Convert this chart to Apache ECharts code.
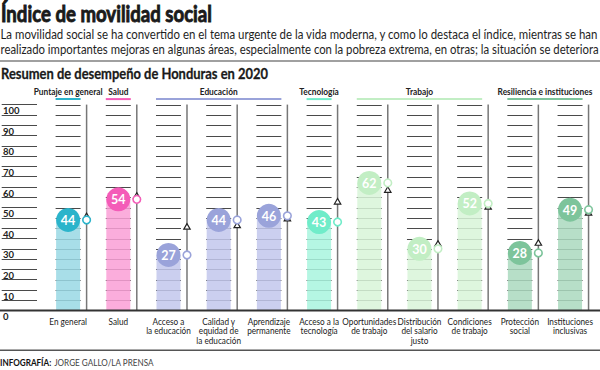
<!DOCTYPE html>
<html>
<head>
<meta charset="utf-8">
<script src="https://cdn.jsdelivr.net/npm/echarts@6/dist/echarts.min.js"></script>
<style>html,body{margin:0;padding:0;background:#fff}#c{width:600px;height:370px}</style>
</head>
<body>
<div id="c"></div>
<script>
// ---------- DATA ----------
const categories = [
  'En general', 'Salud', 'Acceso a\nla educación', 'Calidad y\nequidad de\nla educación',
  'Aprendizaje\npermanente', 'Acceso a la\ntecnología', 'Oportunidades\nde trabajo',
  'Distribución\ndel salario\njusto', 'Condiciones\nde trabajo', 'Protección\nsocial',
  'Instituciones\ninclusivas'
];
const scores = [44, 54, 27, 44, 46, 43, 62, 30, 52, 28, 49];
const benchmark = [45.7, 55.6, 40.6, 41.3, 44.6, 52.8, 58.5, 32.3, 50.3, 32.8, 47.4];
const groupNames = ['Puntaje en general', 'Salud', 'Educación', 'Tecnología', 'Trabajo', 'Resiliencia e instituciones'];
const groupOfCategory = [0, 1, 2, 2, 2, 3, 4, 4, 4, 5, 5];
const yTickLabels = [0, 10, 20, 30, 40, 50, 60, 70, 80, 90, 100];

const titleText = 'Índice de movilidad social';
const subtitleLines = [
  'La movilidad social se ha convertido en el tema urgente de la vida moderna, y como lo destaca el índice, mientras se han',
  'realizado importantes mejoras en algunas áreas, especialmente con la pobreza extrema, en otras; la situación se deteriora'
];
const sectionTitle = 'Resumen de desempeño de Honduras en 2020';
const creditBold = 'INFOGRAFÍA:';
const creditRest = 'JORGE GALLO/LA PRENSA';

// ---------- STYLE ----------
const groupColors = ['#2BB4CB', '#F45CB8', '#9AA3DA', '#70ECC9', '#C2EEC4', '#7DC49B'];
const groupBarColors = ['#9AD8E4', '#FA9FD6', '#C2C7EC', '#A9F4DE', '#D8F5D8', '#ABDABF'];

const mctx = document.createElement('canvas').getContext('2d');
function measure(font, text) {
  mctx.font = font;
  return Math.max.apply(null, text.split('\n').map(t => mctx.measureText(t).width));
}
const FF = 'Lato, "Open Sans", sans-serif';
const fTitle = 'bold 22px ' + FF;
const fSub = '13px ' + FF;
const fSection = 'bold 15px ' + FF;
const fHeader = 'bold 10px ' + FF;
const fLabel = '10px ' + FF;
const fBubble = 'bold 12.5px ' + FF;
const fCreditB = 'bold 9.5px ' + FF;
const fCreditR = '9.5px ' + FF;

const sTitle = 211 / measure(fTitle, titleText);
const sSub1 = 598 / measure(fSub, subtitleLines[0]);
const sSub2 = 599 / measure(fSub, subtitleLines[1]);
const sSection = 267 / measure(fSection, sectionTitle);
const sHeader = 95 / measure(fHeader, 'Resiliencia e instituciones');
const sLabel = 54 / measure(fLabel, 'Oportunidades');
const sCredit = 153 / (measure(fCreditB, creditBold + ' ') + measure(fCreditR, creditRest));

function renderItem(params, api) {
  const i = api.value(0);
  const score = api.value(1);
  const bench = api.value(2);
  const base = api.coord([i, 0]);
  const cx = base[0], y0 = base[1];
  const yTop = api.coord([i, 100])[1];
  const ys = api.coord([i, score])[1];
  const yb = api.coord([i, bench])[1];
  const g = groupOfCategory[i];
  const col = groupColors[g], barCol = groupBarColors[g];
  const lx = cx + 18.5;
  const children = [];
  // column rules every 5 points
  for (let v = 5; v <= 100; v += 5) {
    const y = Math.round(api.coord([i, v])[1]) + 0.5;
    children.push({type: 'line', shape: {x1: cx - 12.5, y1: y, x2: cx + 12.5, y2: y},
      style: {stroke: '#4a4a4a', lineWidth: 1}});
  }
  // bar
  children.push({type: 'rect', shape: {x: cx - 12, y: ys, width: 24, height: y0 - ys},
    style: {fill: barCol, opacity: 0.86}});
  // bubble
  children.push({type: 'circle', shape: {cx: cx, cy: ys, r: 12}, style: {fill: col}});
  children.push({type: 'text', x: cx, y: ys + 0.5,
    style: {text: String(score), font: fBubble, fill: '#fff', align: 'center', verticalAlign: 'middle'}});
  // vertical rule
  children.push({type: 'line', shape: {x1: lx, y1: yTop, x2: lx, y2: y0},
    style: {stroke: '#777', lineWidth: 1.5}});
  // triangle (benchmark)
  children.push({type: 'polygon', shape: {points: [[lx, yb - 3.3], [lx - 3.2, yb + 2.2], [lx + 3.2, yb + 2.2]]},
    style: {fill: '#fff', stroke: '#222', lineWidth: 1.2}});
  // circle marker (score)
  children.push({type: 'circle', shape: {cx: lx, cy: ys, r: 3.8},
    style: {fill: '#fff', stroke: col, lineWidth: 1.6}});
  // group header
  if (i === 0 || groupOfCategory[i - 1] !== g) {
    let last = i;
    while (last + 1 < groupOfCategory.length && groupOfCategory[last + 1] === g) last++;
    const lastC = api.coord([last, 0])[0];
    children.push({type: 'rect', shape: {x: cx - 12.5, y: yTop - 6.5, width: lastC - cx + 25, height: 2},
      style: {fill: col}});
    children.push({type: 'text', x: (cx + lastC) / 2, y: yTop - 13.5, scaleX: sHeader,
      style: {text: groupNames[g], font: fHeader, fill: '#222', align: 'center', verticalAlign: 'middle'}});
  }
  // category label
  children.push({type: 'text', x: cx, y: y0 + 5.5, scaleX: sLabel,
    style: {text: categories[i], font: fLabel, fill: '#1a1a1a', align: 'center', verticalAlign: 'top', lineHeight: 9.5}});
  return {type: 'group', children: children};
}

const chart = echarts.init(document.getElementById('c'), null, {renderer: 'svg'});
chart.setOption({
  backgroundColor: '#fff',
  animation: false,
  grid: {left: 41.3, right: 4.85, top: 104.6, bottom: 59.4},
  xAxis: {
    type: 'category', data: categories,
    axisLine: {show: false}, axisTick: {show: false}, axisLabel: {show: false}
  },
  yAxis: {
    type: 'value', min: 0, max: 100, interval: 5, offset: 6,
    axisLine: {show: false},
    axisTick: {show: true, length: 35.3, lineStyle: {color: '#4a4a4a', width: 1}},
    splitLine: {show: false},
    axisLabel: {
      margin: 34, align: 'left', verticalAlign: 'top', padding: [1, 0, 0, 0],
      fontFamily: FF, fontSize: 9.5, fontWeight: 'bold', color: '#222',
      formatter: v => (yTickLabels.indexOf(v) >= 0 ? String(v) : '')
    }
  },
  series: [{
    type: 'custom',
    renderItem: renderItem,
    encode: {x: 0, y: 1},
    data: categories.map((c, i) => [i, scores[i], benchmark[i]]),
    z: 2
  }],
  graphic: [
    {type: 'text', x: 1, y: 13.5, scaleX: sTitle, z: 10,
      style: {text: titleText, font: fTitle, fill: '#1a1a1a', stroke: '#1a1a1a', lineWidth: 0.9, verticalAlign: 'middle'}},
    {type: 'text', x: 0.5, y: 34.5, scaleX: sSub1, z: 10,
      style: {text: subtitleLines[0], font: fSub, fill: '#1e1e1e', verticalAlign: 'middle'}},
    {type: 'text', x: 0.5, y: 49.5, scaleX: sSub2, z: 10,
      style: {text: subtitleLines[1], font: fSub, fill: '#1e1e1e', verticalAlign: 'middle'}},
    {type: 'rect', shape: {x: 0, y: 60, width: 600, height: 2}, style: {fill: '#a0a0a0'}, z: 10},
    {type: 'text', x: 1, y: 73.5, scaleX: sSection, z: 10,
      style: {text: sectionTitle, font: fSection, fill: '#1a1a1a', stroke: '#1a1a1a', lineWidth: 0.3, verticalAlign: 'middle'}},
    {type: 'rect', shape: {x: 0, y: 309.6, width: 600, height: 2}, style: {fill: '#333'}, z: 10},
    {type: 'rect', shape: {x: 0, y: 349.5, width: 600, height: 1.6}, style: {fill: '#555'}, z: 10},
    {type: 'text', x: 0, y: 362, scaleX: sCredit, z: 10,
      style: {
        text: '{b|' + creditBold + '} {r|' + creditRest + '}', verticalAlign: 'middle',
        rich: {b: {font: fCreditB, fill: '#111'}, r: {font: fCreditR, fill: '#444'}}
      }}
  ]
});
</script>
</body>
</html>
